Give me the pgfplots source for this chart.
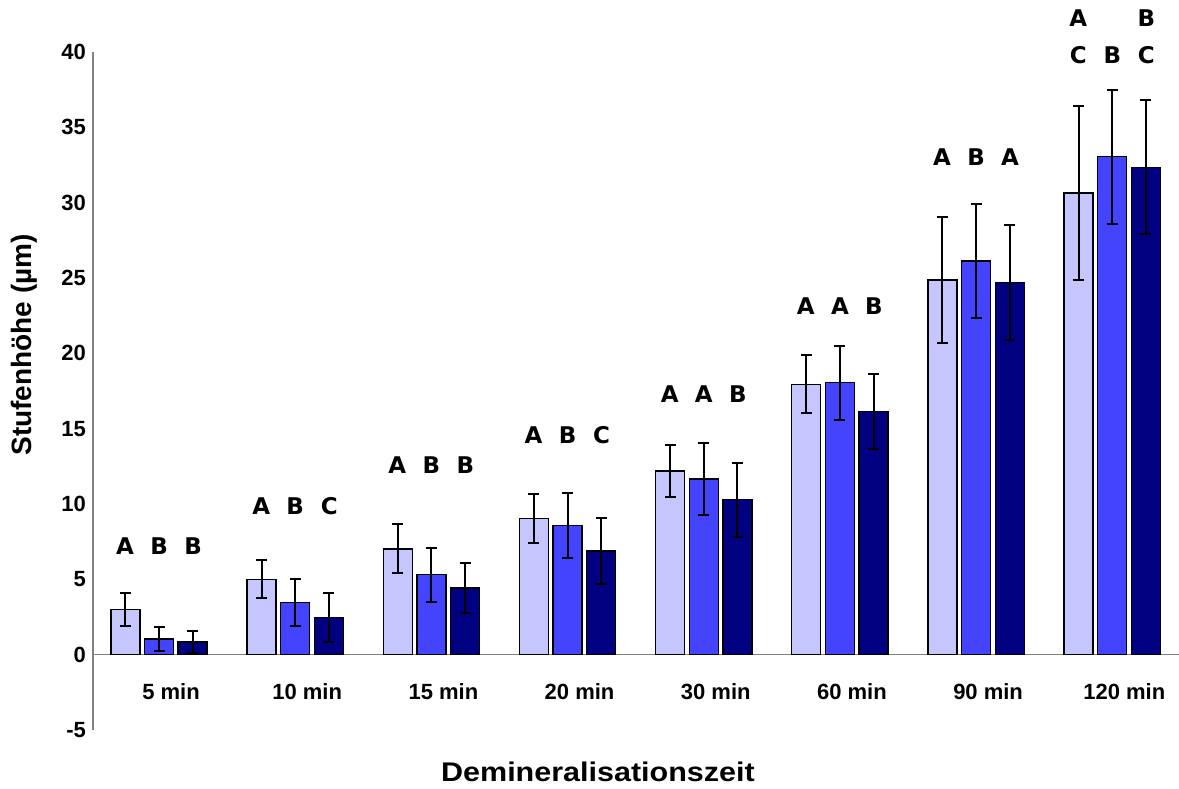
\documentclass[border=0pt]{standalone}
\usepackage{pgfplots}
\pgfplotsset{compat=1.18}
\usepackage{pgfplotstable}
\usepackage{fontspec}
\setmainfont{Liberation Sans}
\newfontfamily\letterfont{DejaVu Sans}

\definecolor{c1}{RGB}{198,198,255}
\definecolor{c2}{RGB}{68,68,255}
\definecolor{c3}{RGB}{0,0,128}
\definecolor{axgray}{RGB}{128,128,128}

\pgfplotstableread{
x y err
0 3.00 1.12
1 5.00 1.27
2 7.02 1.63
3 9.02 1.64
4 12.20 1.74
5 17.95 1.92
6 24.86 4.18
7 30.65 5.78
}\serA
\pgfplotstableread{
x y err
0 1.05 0.80
1 3.45 1.55
2 5.30 1.78
3 8.57 2.17
4 11.65 2.39
5 18.05 2.45
6 26.13 3.81
7 33.05 4.45
}\serB
\pgfplotstableread{
x y err
0 0.85 0.75
1 2.47 1.62
2 4.42 1.68
3 6.89 2.17
4 10.28 2.46
5 16.15 2.49
6 24.70 3.83
7 32.35 4.46
}\serC
\pgfplotstableread{
x y t
-0.25 7.22 A
0 7.22 B
0.25 7.22 B
0.75 9.88 A
1 9.88 B
1.25 9.88 C
1.75 12.59 A
2 12.59 B
2.25 12.59 B
2.75 14.54 A
3 14.54 B
3.25 14.54 C
3.75 17.31 A
4 17.31 A
4.25 17.31 B
4.75 23.14 A
5 23.14 A
5.25 23.14 B
5.75 33.05 A
6 33.05 B
6.25 33.05 A
6.75 42.26 A
6.75 39.82 C
7 39.82 B
7.25 42.26 B
7.25 39.82 C
}\letters

\begin{document}
\begin{tikzpicture}
\begin{axis}[
  scale only axis,
  width=543pt, height=339pt,
  xmin=-0.485, xmax=7.49,
  ymin=-5, ymax=40,
  ybar, bar width=0.213,
  axis x line=middle,
  axis y line=left,
  axis line style={-, draw=axgray, line width=0.7pt},
  hide obscured y ticks=false,
  hide obscured x ticks=false,
  ytick={-5,0,5,10,15,20,25,30,35,40},
  xtick={0,1,2,3,4,5,6,7},
  xticklabels={5 min,10 min,15 min,20 min,30 min,60 min,90 min,120 min},
  major tick length=0pt,
  tick style={draw=none},
  ticklabel style={font=\bfseries\fontsize{11}{13}\selectfont},
  /pgf/number format/assume math mode=true,
  xticklabel style={anchor=center, yshift=-18.5pt, xshift=6pt},
  every axis y label/.style={at={(axis description cs:-0.0635,0.568)}, rotate=90, anchor=center, font=\bfseries\fontsize{14}{16}\selectfont},
  every axis x label/.style={at={(axis description cs:0.465,-0.062)}, anchor=center, xscale=1.13, font=\bfseries\fontsize{13.5}{15}\selectfont},
  ylabel={Stufenhöhe (µm)},
  xlabel={Demineralisationszeit},
  clip=false,
  error bars/error bar style={black, line width=1pt},
  error bars/error mark options={rotate=90, mark size=2.75pt, line width=1pt, black},
]
\addplot[ybar, bar shift=-0.247, fill=c1, draw=black, line width=0.7pt,
  error bars/.cd, y dir=both, y explicit]
  table[x=x, y=y, y error=err] {\serA};
\addplot[ybar, bar shift=0, fill=c2, draw=black, line width=0.7pt,
  error bars/.cd, y dir=both, y explicit]
  table[x=x, y=y, y error=err] {\serB};
\addplot[ybar, bar shift=0.247, fill=c3, draw=black, line width=0.7pt,
  error bars/.cd, y dir=both, y explicit]
  table[x=x, y=y, y error=err] {\serC};
\addplot[sharp plot, draw=none, mark=none, bar shift=0, point meta=explicit symbolic,
  nodes near coords,
  nodes near coords style={anchor=center, font=\letterfont\bfseries\fontsize{11.5}{13}\selectfont, text=black}]
  table[x=x, y=y, meta=t] {\letters};
\coordinate (SW) at (rel axis cs:0,0);
\coordinate (NE) at (rel axis cs:1,1);
\end{axis}
\pgfresetboundingbox
\path ([shift={(-46.5pt,-29.5pt)}]SW) rectangle ([shift={(0pt,26pt)}]NE);
\end{tikzpicture}
\end{document}
